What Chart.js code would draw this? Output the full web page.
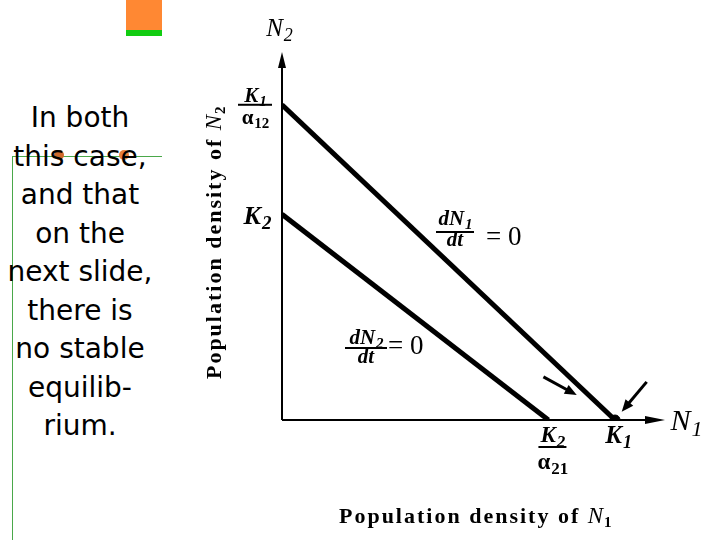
<!DOCTYPE html>
<html>
<head>
<meta charset="utf-8">
<script src="https://cdn.jsdelivr.net/npm/chart.js@4"></script>
<style>
  html, body { margin: 0; padding: 0; background: #fff; }
  #wrap { position: relative; width: 720px; height: 540px; overflow: hidden; }
  #myChart { position: absolute; left: 0; top: 0; }
  .deco { position: absolute; }
  #note {
    position: absolute; left: 0; top: 99px; width: 160px;
    font: 28px "DejaVu Sans", sans-serif; line-height: 38.5px;
    text-align: center; color: #000;
  }
</style>
</head>
<body>
<div id="wrap">
  <div class="deco" style="left:126px;top:0;width:36px;height:30px;background:#ff8833"></div>
  <div class="deco" style="left:126px;top:30px;width:36px;height:6px;background:#11cc11"></div>
  <div class="deco" style="left:12px;top:156px;width:150px;height:1px;background:#4aa84a"></div>
  <div class="deco" style="left:12px;top:156px;width:1px;height:384px;background:#4aa84a"></div>
  <div class="deco" style="left:54px;top:150px;width:10px;height:10px;border-radius:50%;background:#d06a2c"></div>
  <div class="deco" style="left:119px;top:150px;width:10px;height:10px;border-radius:50%;background:#e8803a"></div>
  <div id="note">In both<br>this case,<br>and that<br>on the<br>next slide,<br>there is<br>no stable<br>equilib-<br>rium.</div>
  <canvas id="myChart" width="720" height="540"></canvas>
</div>
<script>
// 軸の範囲
const xMax = 115;
const yMax = 110;

// 等値線 (isoclines)
const k1 = 100;          // K1 (N1 軸上)
const k2OverA21 = 80;    // K2/α21 (N1 軸上)
const k1OverA12 = 95;    // K1/α12 (N2 軸上)
const k2 = 62;           // K2 (N2 軸上)

const isoN1 = [{ x: 0, y: k1OverA12 }, { x: k1, y: 0 }];   // dN1/dt = 0
const isoN2 = [{ x: 0, y: k2 }, { x: k2OverA21, y: 0 }];   // dN2/dt = 0
const equilibrium = [{ x: k1, y: 0 }];

// 矢印 (始点 -> 終点)
const arrows = [
    [{ x: 78.5, y: 13 }, { x: 88.5, y: 7.5 }],
    [{ x: 109.5, y: 11.5 }, { x: 102, y: 2.5 }]
];

const serif = '"Liberation Serif", "Times New Roman", serif';

function drawSub(ctx, main, sub, x, y, size, style) {
    // 下付き文字付きテキスト (x は中央)
    const subSize = Math.round(size * 0.72);
    ctx.font = `${style} ${size}px ${serif}`;
    const w1 = ctx.measureText(main).width;
    ctx.font = `${style} ${subSize}px ${serif}`;
    const w2 = sub ? ctx.measureText(sub).width : 0;
    const left = x - (w1 + w2) / 2;
    ctx.textAlign = 'left';
    ctx.textBaseline = 'alphabetic';
    ctx.font = `${style} ${size}px ${serif}`;
    ctx.fillText(main, left, y);
    if (sub) {
        ctx.font = `${style} ${subSize}px ${serif}`;
        ctx.fillText(sub, left + w1 + 1, y + size * 0.2);
    }
}

function drawFrac(ctx, f) {
    drawSub(ctx, f.num, f.numSub, f.x, f.yNum, f.size, f.numStyle);
    ctx.fillRect(f.x - f.barW / 2, f.yBar - 1, f.barW, 2);
    drawSub(ctx, f.den, f.denSub, f.x, f.yDen, f.size, f.denStyle);
}

function arrowHead(ctx, x, y, ang, len, half) {
    ctx.beginPath();
    ctx.moveTo(x, y);
    ctx.lineTo(x - len * Math.cos(ang) + half * Math.sin(ang), y - len * Math.sin(ang) - half * Math.cos(ang));
    ctx.lineTo(x - len * Math.cos(ang) - half * Math.sin(ang), y - len * Math.sin(ang) + half * Math.cos(ang));
    ctx.closePath();
    ctx.fill();
}

function axisTitle(ctx, sub, x, y, rotate) {
    ctx.save();
    ctx.translate(x, y);
    if (rotate) ctx.rotate(-Math.PI / 2);
    ctx.letterSpacing = '2px';
    ctx.textAlign = 'left';
    ctx.font = `bold 22px ${serif}`;
    const t = 'Population density of ';
    const tw = ctx.measureText(t).width;
    ctx.font = `italic 23px ${serif}`;
    const nw = ctx.measureText('N').width;
    const total = tw + nw + 10;
    const lx = -total / 2;
    ctx.font = `bold 22px ${serif}`;
    ctx.fillText(t, lx, 0);
    ctx.font = `italic 23px ${serif}`;
    ctx.fillText('N', lx + tw, 0);
    ctx.font = `bold 15px ${serif}`;
    ctx.fillText(sub, lx + tw + nw - 1, 4);
    ctx.restore();
}

const phasePlot = {
    id: 'phasePlot',
    beforeDatasetsDraw(chart) {
        const { ctx, chartArea, scales } = chart;
        const x0 = scales.x.getPixelForValue(0);
        const y0 = scales.y.getPixelForValue(0);
        ctx.save();
        ctx.strokeStyle = '#000';
        ctx.fillStyle = '#000';
        ctx.lineWidth = 2;
        ctx.beginPath();
        ctx.moveTo(x0, y0);
        ctx.lineTo(x0, chartArea.top + 8);
        ctx.moveTo(x0, y0);
        ctx.lineTo(chartArea.right - 8, y0);
        ctx.stroke();
        arrowHead(ctx, x0, chartArea.top - 3, -Math.PI / 2, 16, 4);
        arrowHead(ctx, chartArea.right, y0, 0, 20, 4);
        ctx.restore();
    },
    afterDatasetsDraw(chart) {
        const { ctx, chartArea, scales } = chart;
        const sx = v => scales.x.getPixelForValue(v);
        const sy = v => scales.y.getPixelForValue(v);
        const x0 = sx(0), y0 = sy(0);
        ctx.save();
        ctx.fillStyle = '#000';
        ctx.strokeStyle = '#000';

        // 小さい矢印
        arrows.forEach(([a, b]) => {
            const ax = sx(a.x), ay = sy(a.y), bx = sx(b.x), by = sy(b.y);
            const ang = Math.atan2(by - ay, bx - ax);
            ctx.lineWidth = 3;
            ctx.beginPath();
            ctx.moveTo(ax, ay);
            ctx.lineTo(bx - 8 * Math.cos(ang), by - 8 * Math.sin(ang));
            ctx.stroke();
            arrowHead(ctx, bx, by, ang, 12, 5);
        });

        // 軸ラベル
        drawSub(ctx, 'N', '2', x0 - 3, chartArea.top - 19, 25, 'italic');
        drawSub(ctx, 'N', '1', chartArea.right + 21, y0 + 10, 30, 'italic');

        const yA = sy(k1OverA12);
        drawFrac(ctx, { num: 'K', numSub: '1', den: 'α', denSub: '12', x: x0 - 27,
            yNum: yA - 3, yBar: yA, yDen: yA + 19, size: 21,
            numStyle: 'bold italic', denStyle: 'bold', barW: 34 });
        drawSub(ctx, 'K', '2', x0 - 25, sy(k2) + 10, 26, 'bold italic');
        drawSub(ctx, 'K', '1', sx(k1) + 3, y0 + 23, 25, 'bold italic');
        drawFrac(ctx, { num: 'K', numSub: '2', den: 'α', denSub: '21', x: sx(k2OverA21) + 4,
            yNum: y0 + 22, yBar: y0 + 27, yDen: y0 + 49, size: 23,
            numStyle: 'bold italic', denStyle: 'bold', barW: 28 });

        // 等値線ラベル
        drawFrac(ctx, { num: 'dN', numSub: '1', den: 'dt', denSub: '', x: 455,
            yNum: 225, yBar: 232, yDen: 246, size: 21,
            numStyle: 'bold italic', denStyle: 'bold italic', barW: 38 });
        ctx.font = `27px ${serif}`;
        ctx.textAlign = 'left';
        ctx.fillText('= 0', 486, 245);
        drawFrac(ctx, { num: 'dN', numSub: '2', den: 'dt', denSub: '', x: 366,
            yNum: 344, yBar: 348, yDen: 363, size: 21,
            numStyle: 'bold italic', denStyle: 'bold italic', barW: 42 });
        ctx.font = `27px ${serif}`;
        ctx.fillText('= 0', 388, 354);

        // 軸タイトル
        axisTitle(ctx, '1', 477, 523, false);
        axisTitle(ctx, '2', 221, 241, true);
        ctx.restore();
    }
};

const ctx = document.getElementById('myChart').getContext('2d');
new Chart(ctx, {
    type: 'scatter',
    data: {
        datasets: [
            { data: isoN1, showLine: true, borderColor: '#000', borderWidth: 5, pointRadius: 0 },
            { data: isoN2, showLine: true, borderColor: '#000', borderWidth: 5, pointRadius: 0 },
            { data: equilibrium, pointRadius: 5, backgroundColor: '#000', borderColor: '#000' }
        ]
    },
    options: {
        responsive: false,
        animation: false,
        layout: { padding: { left: 282, right: 55, top: 55, bottom: 120 } },
        scales: {
            x: { min: 0, max: xMax, display: false },
            y: { min: 0, max: yMax, display: false }
        },
        plugins: { legend: { display: false }, tooltip: { enabled: false } }
    },
    plugins: [phasePlot]
});
</script>
</body>
</html>
